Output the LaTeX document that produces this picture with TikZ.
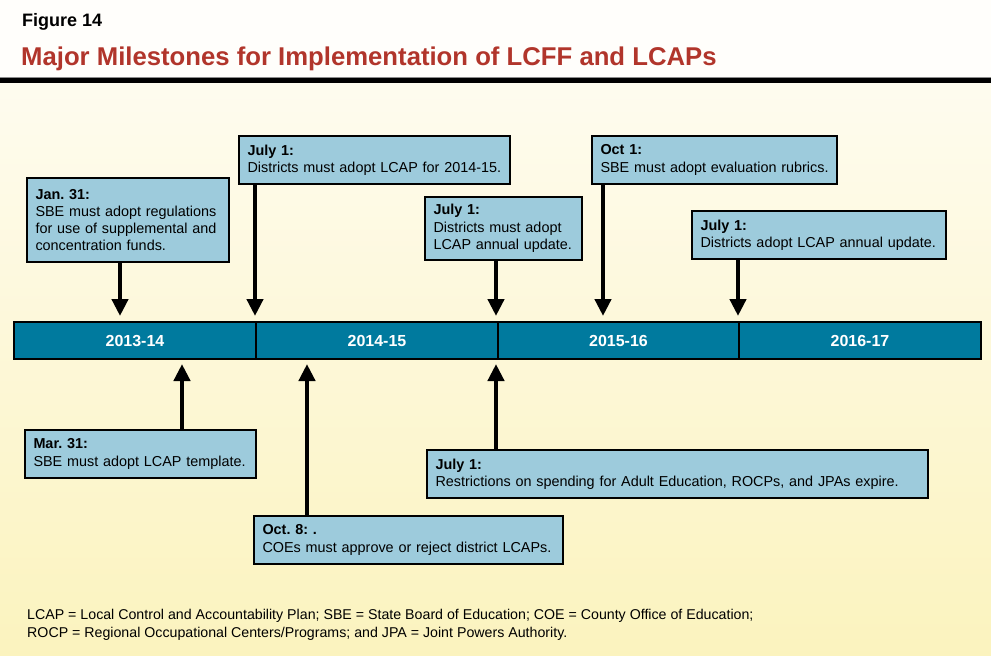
\documentclass[tikz,border=0pt]{standalone}
\usepackage{fontspec}
\setmainfont{Liberation Sans}
\usetikzlibrary{arrows.meta}
\definecolor{bgtop}{HTML}{FFFDF6}
\definecolor{bgbot}{HTML}{FBF3BE}
\definecolor{titlered}{HTML}{B1352B}
\definecolor{barblue}{HTML}{007A9E}
\definecolor{boxblue}{HTML}{9DCBDC}
\frenchspacing
\begin{document}
\begin{tikzpicture}[x=1pt,y=-1pt,
  mbox/.style={draw=black, line width=2pt, fill=boxblue, anchor=north west, align=left,
    inner xsep=8.5pt, inner ysep=0pt, font=\fontsize{14.4}{17.3}\selectfont},
  yearseg/.style={draw=black, line width=2pt, fill=barblue, minimum height=37pt,
    anchor=north west, inner sep=0pt, text=white, font=\fontsize{16}{19}\selectfont\bfseries},
  marrow/.style={line width=4.5pt, -{Triangle[width=16pt,length=17pt]}}
]
\useasboundingbox (0,0) rectangle (991,656);
\shade[top color=bgtop, bottom color=bgbot] (0,0) rectangle (991,656);
\fill[white!60!bgtop] (0,0) rectangle (991,78);

% header
\node[anchor=base west, inner sep=0pt, font=\fontsize{18}{21}\selectfont\bfseries] (fig) at (22,26) {Figure 14};
\node[anchor=base west, inner sep=0pt, text=titlered, font=\fontsize{25.7}{30}\selectfont\bfseries] (title) at (21,65) {Major Milestones for Implementation of LCFF and LCAPs};
\draw[black!45, line width=1pt] (0,77.5) -- (991,77.5);
\draw[line width=4.5pt] (0,80.5) -- (991,80.5);

% timeline bar
\node[yearseg, minimum width=242pt] (s1) at (13,321) {2013-14};
\node[yearseg, minimum width=242pt] (s2) at (255,321) {2014-15};
\node[yearseg, minimum width=241pt] (s3) at (497,321) {2015-16};
\node[yearseg, minimum width=242pt] (s4) at (738,321) {2016-17};

% upper boxes
\node[mbox, minimum width=202pt, minimum height=84pt, text width=185pt] (jan) at (26,177)
  {\textbf{Jan. 31:}\\\mbox{SBE must adopt regulations}\\\mbox{for use of supplemental and}\\\mbox{concentration funds.}};
\node[mbox, minimum width=271pt, minimum height=48pt, text width=254pt] (jula) at (238,135)
  {\textbf{July 1:}\\\mbox{Districts must adopt LCAP for 2014-15.}};
\node[mbox, minimum width=157pt, minimum height=63pt, text width=140pt] (julb) at (424,196)
  {\textbf{July 1:}\\\mbox{Districts must adopt}\\\mbox{LCAP annual update.}};
\node[mbox, minimum width=245pt, minimum height=48pt, text width=228pt] (octa) at (591,135)
  {\textbf{Oct 1:}\\\mbox{SBE must adopt evaluation rubrics.}};
\node[mbox, minimum width=254pt, minimum height=48pt, text width=237pt] (julc) at (691,210)
  {\textbf{July 1:}\\\mbox{Districts adopt LCAP annual update.}};

% lower boxes
\node[mbox, minimum width=231pt, minimum height=48pt, text width=214pt] (mar) at (24,429)
  {\textbf{Mar. 31:}\\\mbox{SBE must adopt LCAP template.}};
\node[mbox, minimum width=501pt, minimum height=48pt, text width=484pt] (juld) at (426,449)
  {\textbf{July 1:}\\\mbox{Restrictions on spending for Adult Education, ROCPs, and JPAs expire.}};
\node[mbox, minimum width=309pt, minimum height=48pt, text width=292pt] (octb) at (253,515)
  {\textbf{Oct. 8: .}\\\mbox{COEs must approve or reject district LCAPs.}};

% arrow positions
\coordinate (xa) at (120,0);
\coordinate (xb) at (255,0);
\coordinate (xc) at (496,0);
\coordinate (xd) at (603,0);
\coordinate (xe) at (738,0);
\coordinate (xf) at (182,0);
\coordinate (xg) at (496,0);
\coordinate (xh) at (307,0);

\draw[marrow, shorten >=5pt] (jan.south -| xa) -- (s1.north -| xa);
\draw[marrow, shorten >=5pt] (jula.south -| xb) -- (s2.north -| xb);
\draw[marrow, shorten >=5pt] (julb.south -| xc) -- (s3.north -| xc);
\draw[marrow, shorten >=5pt] (octa.south -| xd) -- (s3.north -| xd);
\draw[marrow, shorten >=5pt] (julc.south -| xe) -- (s4.north -| xe);
\draw[marrow, shorten >=4pt] (mar.north -| xf) -- (s1.south -| xf);
\draw[marrow, shorten >=4pt] (juld.north -| xg) -- (s3.south -| xg);
\draw[marrow, shorten >=4pt] (octb.north -| xh) -- (s2.south -| xh);

% footnote
\node[anchor=north west, align=left, inner sep=0pt, font=\fontsize{14.2}{17.8}\selectfont] (foot) at (27,609.5)
  {LCAP = Local Control and Accountability Plan; SBE = State Board of Education; COE = County Office of Education;\\
   ROCP = Regional Occupational Centers/Programs; and JPA = Joint Powers Authority.};
\end{tikzpicture}
\end{document}
